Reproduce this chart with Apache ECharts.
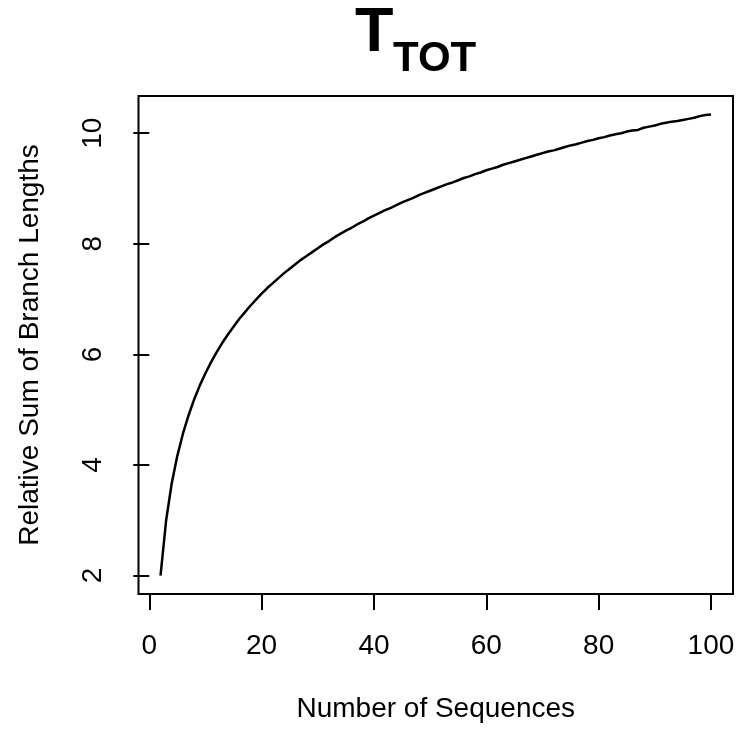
<!DOCTYPE html>
<html>
<head>
<meta charset="utf-8">
<script src="https://cdn.jsdelivr.net/npm/echarts@6/dist/echarts.min.js"></script>
<style>
  html, body { margin: 0; padding: 0; background: #fff; }
  #main { width: 745px; height: 729px; }
</style>
</head>
<body>
<div id="main"></div>
<script>
// number of sequences (x)
var nSeq = [2, 3, 4, 5, 6, 7, 8, 9, 10, 11,
  12, 13, 14, 15, 16, 17, 18, 19, 20, 21,
  22, 23, 24, 25, 26, 27, 28, 29, 30, 31,
  32, 33, 34, 35, 36, 37, 38, 39, 40, 41,
  42, 43, 44, 45, 46, 47, 48, 49, 50, 51,
  52, 53, 54, 55, 56, 57, 58, 59, 60, 61,
  62, 63, 64, 65, 66, 67, 68, 69, 70, 71,
  72, 73, 74, 75, 76, 77, 78, 79, 80, 81,
  82, 83, 84, 85, 86, 87, 88, 89, 90, 91,
  92, 93, 94, 95, 96, 97, 98, 99, 100];
// relative sum of branch lengths (y)
var ttot = [2.00, 3.00, 3.67, 4.17, 4.57, 4.90, 5.19, 5.44, 5.66, 5.86,
  6.04, 6.21, 6.36, 6.50, 6.64, 6.76, 6.88, 6.99, 7.10, 7.20,
  7.29, 7.38, 7.47, 7.55, 7.63, 7.71, 7.78, 7.85, 7.92, 7.99,
  8.05, 8.12, 8.18, 8.24, 8.29, 8.35, 8.40, 8.46, 8.51, 8.56,
  8.61, 8.65, 8.70, 8.75, 8.79, 8.83, 8.88, 8.92, 8.96, 9.00,
  9.04, 9.08, 9.11, 9.15, 9.19, 9.22, 9.26, 9.29, 9.33, 9.36,
  9.39, 9.43, 9.46, 9.49, 9.52, 9.55, 9.58, 9.61, 9.64, 9.67,
  9.69, 9.72, 9.75, 9.78, 9.80, 9.83, 9.86, 9.88, 9.91, 9.93,
  9.96, 9.98, 10.00, 10.03, 10.05, 10.06, 10.10, 10.12, 10.14, 10.17,
  10.19, 10.21, 10.22, 10.24, 10.26, 10.28, 10.31, 10.33, 10.34];
// tick labels
var xTicks = [0, 20, 40, 60, 80, 100];
var yTicks = [2, 4, 6, 8, 10];

var font = 'Liberation Sans, Arial, sans-serif';
var chart = echarts.init(document.getElementById('main'));

// R style axis range: data range padded by 4% each side
var xMin = 2 - 0.04 * 98, xMax = 100 + 0.04 * 98;
var yMin = 2 - 0.04 * 8.34, yMax = 10.34 + 0.04 * 8.34;

var option = {
    animation: false,
    backgroundColor: '#fff',
    title: [
        {
            text: 'T', left: 355, top: 2, padding: 0,
            textStyle: { fontFamily: font, fontSize: 63, fontWeight: 'bold', color: '#000' }
        },
        {
            text: 'TOT', left: 393, top: 38, padding: 0,
            textStyle: { fontFamily: font, fontSize: 42, fontWeight: 'bold', color: '#000' }
        }
    ],
    grid: {
        left: 138.5, right: 12, top: 96, bottom: 135,
        show: true, borderColor: '#000', borderWidth: 2, backgroundColor: 'transparent'
    },
    xAxis: {
        type: 'value',
        min: xMin, max: xMax,
        name: 'Number of Sequences',
        nameLocation: 'middle',
        nameGap: 101,
        nameTextStyle: { fontFamily: font, fontSize: 28, color: '#000' },
        axisLine: { show: false },
        axisTick: { show: true, inside: false, length: 16, customValues: xTicks,
            lineStyle: { color: '#000', width: 2 } },
        axisLabel: { customValues: xTicks, margin: 38,
            fontFamily: font, fontSize: 28, color: '#000' },
        splitLine: { show: false }
    },
    yAxis: {
        type: 'value',
        min: yMin, max: yMax,
        name: 'Relative Sum of Branch Lengths',
        nameLocation: 'middle',
        nameGap: 94,
        nameTextStyle: { fontFamily: font, fontSize: 28, color: '#000' },
        axisLine: { show: false },
        axisTick: { show: true, inside: false, length: 16, customValues: yTicks,
            lineStyle: { color: '#000', width: 2 } },
        axisLabel: { customValues: yTicks, rotate: 90, margin: 31,
            fontFamily: font, fontSize: 28, color: '#000' },
        splitLine: { show: false }
    },
    series: [{
        type: 'line',
        data: nSeq.map(function (n, i) { return [n, ttot[i]]; }),
        showSymbol: false,
        lineStyle: { color: '#000', width: 2.5 }
    }]
};
chart.setOption(option);
</script>
</body>
</html>
